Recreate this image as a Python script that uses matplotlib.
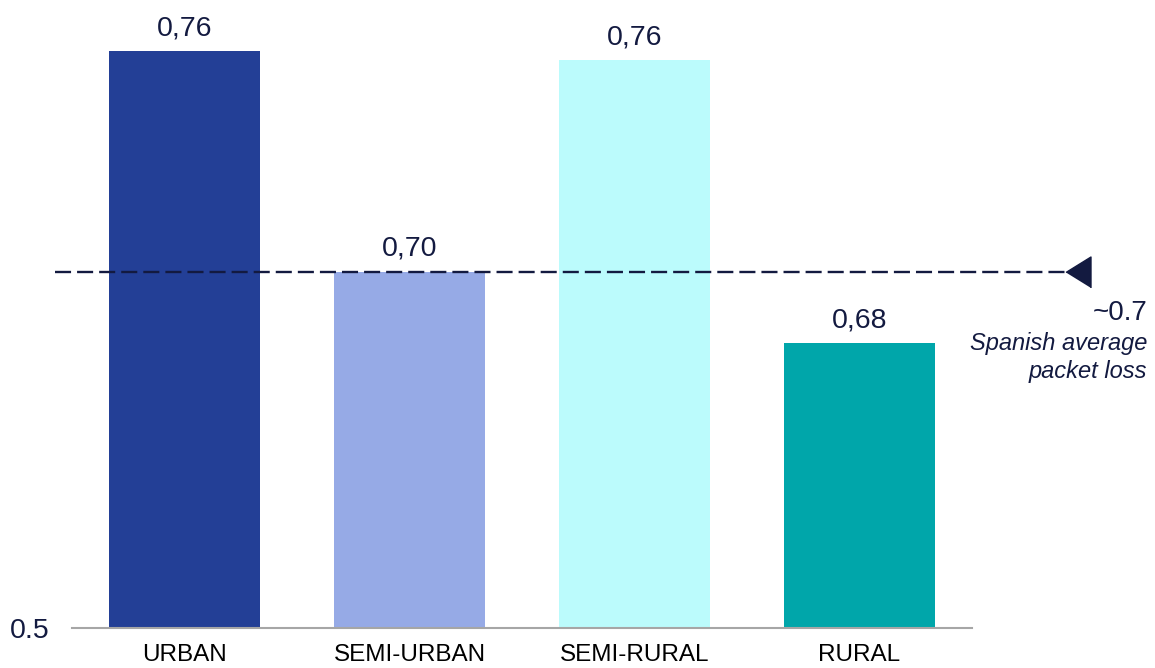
import matplotlib.pyplot as plt
import numpy as np

# data
categories = ["URBAN", "SEMI-URBAN", "SEMI-RURAL", "RURAL"]
values = [0.762, 0.700, 0.7595, 0.680]
value_labels = ["0,76", "0,70", "0,76", "0,68"]
colors = ["#233f96", "#96aae6", "#bbfbfc", "#00a6aa"]
spain_avg = 0.70

navy = "#131a40"
plt.rcParams["font.family"] = ["Liberation Sans", "DejaVu Sans"]

fig = plt.figure(figsize=(11.55, 6.68), dpi=100)
ax = fig.add_axes([72 / 1155, 1 - 627.5 / 668, 900 / 1155, 627.5 / 668])

x = np.arange(len(categories))
bars = ax.bar(x, values, width=0.67, color=colors, zorder=2)
ax.set_xlim(-0.5, 3.5)
ax.set_ylim(0.6, 0.7763)

# value labels above bars
for b, lab in zip(bars, value_labels):
    ax.annotate(lab, (b.get_x() + b.get_width() / 2, b.get_height()),
                xytext=(0, 7), textcoords="offset points",
                ha="center", va="bottom", fontsize=20.5, color=navy)

# spanish average line + arrow head
ax.plot([-0.5756, 3.92], [spain_avg, spain_avg], color=navy, lw=1.7,
        linestyle=(0, (6.8, 2.55)), clip_on=False, zorder=3)
ax.plot([3.969], [spain_avg], marker=[(-1, 0), (1, 1.24), (1, -1.24)],
        markersize=22.3, color=navy, clip_on=False, zorder=4)

fig.text(1147 / 1155, 1 - 320 / 668, "~0.7", ha="right", va="baseline",
         fontsize=20, color=navy)
fig.text(1147 / 1155, 1 - 350 / 668, "Spanish average", ha="right", va="baseline",
         fontsize=17, color=navy, style="italic")
fig.text(1147 / 1155, 1 - 378 / 668, "packet loss", ha="right", va="baseline",
         fontsize=17, color=navy, style="italic")

# axes styling
for s in ["top", "right", "left"]:
    ax.spines[s].set_visible(False)
ax.spines["bottom"].set_color("#a6a6a6")
ax.spines["bottom"].set_linewidth(1.5)
ax.spines["bottom"].set_zorder(3)

ax.set_xticks(x)
ax.set_xticklabels(categories, fontsize=17.5, color="black")
ax.set_yticks([0.6])
ax.set_yticklabels(["0.5"], fontsize=20.5, color=navy)
ax.tick_params(axis="x", length=0, pad=12)
ax.tick_params(axis="y", length=0, pad=16)
for t in ax.get_yticklabels():
    t.set_verticalalignment("center_baseline")

fig.savefig("out.png", dpi=100)
